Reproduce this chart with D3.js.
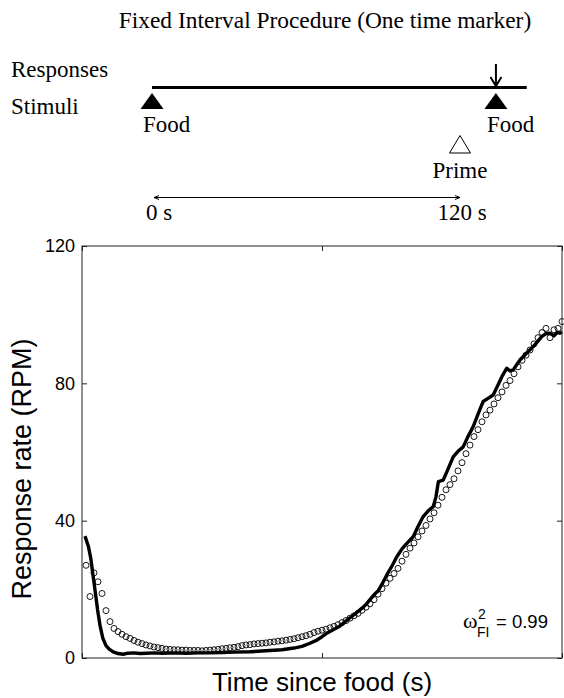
<!DOCTYPE html>
<html>
<head>
<meta charset="utf-8">
<script src="https://cdn.jsdelivr.net/npm/d3@7"></script>
<style>
  body { margin: 0; background: #fff; }
  svg { display: block; }
  .serif { font-family: "Liberation Serif", "Times New Roman", serif; }
  .sans { font-family: "Liberation Sans", Arial, sans-serif; }
</style>
</head>
<body>
<div id="chart"></div>
<script>
// schematic of the procedure (times in s)
const scheduleEvents = [
  { label: 'Food', t: 0, kind: 'food' },
  { label: 'Prime', t: 120, kind: 'prime' },
  { label: 'Food', t: 134, kind: 'food' }
];
const responseTimes = [134];
const scheduleEnd = 146;
const intervalMarks = [{ label: '0 s', t: 0 }, { label: '120 s', t: 120 }];

// observed response rate, one point per second
const obsTime = d3.range(1, 121);
const obsRate = [
  27.0, 17.9, 24.8, 22.2, 18.8, 13.8, 10.6, 8.6, 7.7, 6.9,
  6.2, 5.7, 5.1, 4.6, 4.2, 3.8, 3.5, 3.2, 3.0, 2.8,
  2.6, 2.5, 2.4, 2.4, 2.3, 2.3, 2.2, 2.2, 2.2, 2.1,
  2.2, 2.3, 2.4, 2.5, 2.7, 2.8, 3.0, 3.1, 3.3, 3.6,
  3.8, 3.9, 4.1, 4.2, 4.3, 4.4, 4.6, 4.7, 4.9, 5.0,
  5.2, 5.4, 5.6, 5.9, 6.2, 6.5, 6.9, 7.4, 7.8, 8.1,
  8.4, 8.8, 9.2, 9.7, 10.3, 10.9, 11.6, 12.3, 13.0, 13.9,
  14.8, 15.8, 17.0, 18.6, 20.2, 21.8, 23.2, 24.6, 26.1, 28.2,
  30.2, 32.0, 33.5, 35.3, 37.0, 38.6, 40.5, 42.3, 44.5, 46.8,
  49.0, 50.5, 52.2, 54.5, 56.9, 59.5, 62.0, 64.5, 66.5, 68.8,
  70.8, 72.2, 74.0, 75.8, 77.5, 79.4, 80.8, 82.8, 84.8, 86.7,
  88.2, 89.7, 91.5, 93.3, 94.8, 96.0, 93.3, 95.6, 96.0, 98.0
];

// model fit (solid line)
const fitTime = [
  0.75, 1.6, 2.2, 2.8, 3.4, 3.9, 4.5, 5.2, 6, 6.8, 7.8, 9, 10.3, 11.5, 13, 14.5,
  16, 18, 20, 23, 26, 29, 32, 35, 38, 42, 46, 50, 53, 55, 57, 58.7, 60, 61.3,
  62.8, 64.5, 66.2, 68, 69.5, 71, 72, 73, 74, 75, 76.2, 77.5, 78.7, 80, 81.2,
  82.8, 84, 85.3, 86.5, 87.8, 88.5, 89.1, 90.3, 91.5, 92.8, 94, 95.3, 96.5,
  97.8, 98.5, 99.5, 100.3, 101.5, 102.8, 104, 105, 106.2, 107, 107.8, 108.7,
  109.5, 111, 112.8, 114, 114.9, 116, 117, 118, 118.8, 119.5, 120
];
const fitRate = [
  35.5, 32.5, 29.0, 23.7, 18.5, 14.0, 9.5, 5.8, 3.6, 2.6, 1.8, 1.3, 1.1, 1.4, 1.5, 1.3,
  1.4, 1.5, 1.4, 1.5, 1.4, 1.5, 1.5, 1.6, 1.7, 1.8, 2.1, 2.4, 2.9, 3.4, 4.3, 5.2, 6.2, 7.3,
  8.2, 9.3, 11.0, 12.6, 14.0, 15.6, 17.0, 18.4, 19.5, 21.5, 24.2, 26.8, 29.5, 31.8, 33.4,
  35.3, 38.3, 41.2, 42.8, 44.1, 47.0, 51.4, 51.8, 55.0, 58.6, 60.2, 61.5, 64.5,
  67.4, 69.5, 72.5, 74.7, 75.6, 76.6, 79.5, 82.0, 84.4, 83.6, 83.9, 85.5,
  86.8, 88.6, 90.7, 92.3, 93.6, 94.5, 94.6, 93.8, 94.8, 94.6, 95.0
];

const yTicks = [0, 40, 80, 120];
const xTicks = [0, 60, 120];
const fitLabel = '0.99';

const width = 564, height = 698;
const svg = d3.select('#chart').append('svg')
  .attr('width', width).attr('height', height);

// ---------- top schematic ----------
const schema = svg.append('g').attr('class', 'serif').attr('fill', '#000');

schema.append('text')
  .attr('x', 325).attr('y', 28)
  .attr('text-anchor', 'middle')
  .style('font-size', '23.4px')
  .text('Fixed Interval Procedure (One time marker)');

schema.append('text').attr('x', 11).attr('y', 77).style('font-size', '23px').text('Responses');
schema.append('text').attr('x', 11).attr('y', 114).style('font-size', '23px').text('Stimuli');

const tScale = d3.scaleLinear().domain([0, 120]).range([152, 460]);
const lineY = 87.5;

schema.append('line')
  .attr('x1', tScale(0)).attr('x2', tScale(scheduleEnd))
  .attr('y1', lineY).attr('y2', lineY)
  .attr('stroke', '#000').attr('stroke-width', 3.2);

// response arrows
responseTimes.forEach(t => {
  const x = tScale(t);
  schema.append('path')
    .attr('d', `M${x},64 L${x},86 M${x - 5.5},77 L${x},86 L${x + 5.5},77`)
    .attr('fill', 'none').attr('stroke', '#000').attr('stroke-width', 2);
});

scheduleEvents.forEach(ev => {
  const x = tScale(ev.t);
  if (ev.kind === 'food') {
    schema.append('path')
      .attr('d', `M${x},93 L${x + 11.5},109 L${x - 11.5},109 Z`)
      .attr('fill', '#000');
    schema.append('text')
      .attr('x', x - 9).attr('y', 132)
      .style('font-size', '23px')
      .text(ev.label);
  } else {
    schema.append('path')
      .attr('d', `M${x},135.5 L${x + 10.5},153 L${x - 10.5},153 Z`)
      .attr('fill', '#fff').attr('stroke', '#000').attr('stroke-width', 1);
    schema.append('text')
      .attr('x', x).attr('y', 178)
      .attr('text-anchor', 'middle')
      .style('font-size', '23px')
      .text(ev.label);
  }
});

// double-headed interval arrow
const ax0 = tScale(intervalMarks[0].t) + 2, ax1 = tScale(intervalMarks[1].t);
schema.append('path')
  .attr('d', `M${ax0},197.5 L${ax1},197.5 M${ax0 + 5},195.5 L${ax0},197.5 L${ax0 + 5},199.5 M${ax1 - 5},195.5 L${ax1},197.5 L${ax1 - 5},199.5`)
  .attr('fill', 'none').attr('stroke', '#000').attr('stroke-width', 1);

intervalMarks.forEach((m, i) => {
  schema.append('text')
    .attr('x', tScale(m.t) + (i === 0 ? 7 : 2))
    .attr('y', 220)
    .attr('text-anchor', 'middle')
    .style('font-size', '23px')
    .text(m.label);
});

// ---------- response-rate plot ----------
const plot = { left: 82, right: 562, top: 246, bottom: 658 };

const x = d3.scaleLinear().domain([0, 120]).range([plot.left, plot.right]);
const y = d3.scaleLinear().domain([0, 120]).range([plot.bottom, plot.top]);

const chart = svg.append('g').attr('class', 'sans');

// fitted curve
chart.append('path')
  .datum(d3.zip(fitTime, fitRate))
  .attr('fill', 'none')
  .attr('stroke', '#000')
  .attr('stroke-width', 3.4)
  .attr('stroke-linejoin', 'round')
  .attr('d', d3.line().x(d => x(d[0])).y(d => y(d[1])));

// observed data
chart.append('g')
  .selectAll('circle')
  .data(d3.zip(obsTime, obsRate))
  .join('circle')
  .attr('cx', d => x(d[0]))
  .attr('cy', d => y(d[1]))
  .attr('r', 3)
  .attr('fill', 'none')
  .attr('stroke', '#000')
  .attr('stroke-width', 0.9);

// frame
chart.append('rect')
  .attr('x', plot.left).attr('y', plot.top)
  .attr('width', plot.right - plot.left).attr('height', plot.bottom - plot.top)
  .attr('fill', 'none').attr('stroke', '#222').attr('stroke-width', 1);

// axes with inward ticks
const yAxis = chart.append('g')
  .attr('transform', `translate(${plot.left},0)`)
  .call(d3.axisLeft(y).tickValues(yTicks).tickSizeInner(-5).tickSizeOuter(0).tickPadding(7));
yAxis.select('.domain').remove();
yAxis.selectAll('text').style('font-size', '18px').attr('fill', '#000');

const yAxisR = chart.append('g')
  .attr('transform', `translate(${plot.right},0)`)
  .call(d3.axisRight(y).tickValues(yTicks).tickSizeInner(-5).tickSizeOuter(0).tickFormat(''));
yAxisR.select('.domain').remove();

const xAxis = chart.append('g')
  .attr('transform', `translate(0,${plot.bottom})`)
  .call(d3.axisBottom(x).tickValues(xTicks).tickSizeInner(-5).tickSizeOuter(0).tickFormat(''));
xAxis.select('.domain').remove();

const xAxisT = chart.append('g')
  .attr('transform', `translate(0,${plot.top})`)
  .call(d3.axisTop(x).tickValues(xTicks).tickSizeInner(-5).tickSizeOuter(0).tickFormat(''));
xAxisT.select('.domain').remove();

chart.selectAll('.tick line').attr('stroke', '#222');

// axis labels
chart.append('text')
  .attr('transform', 'translate(31,469) rotate(-90)')
  .attr('text-anchor', 'middle')
  .style('font-size', '27px')
  .text('Response rate (RPM)');

chart.append('text')
  .attr('x', (plot.left + plot.right) / 2)
  .attr('y', 691)
  .attr('text-anchor', 'middle')
  .style('font-size', '26px')
  .text('Time since food (s)');

// fit annotation
const ann = chart.append('g');
ann.append('text').attr('class', 'serif').attr('x', 463).attr('y', 628)
  .style('font-size', '22px').text('ω');
ann.append('text').attr('x', 478).attr('y', 619)
  .style('font-size', '14px').text('2');
ann.append('text').attr('x', 477).attr('y', 637)
  .style('font-size', '14px').text('FI');
ann.append('text').attr('x', 496).attr('y', 628)
  .style('font-size', '18.5px').text('= ' + fitLabel);
</script>
</body>
</html>
